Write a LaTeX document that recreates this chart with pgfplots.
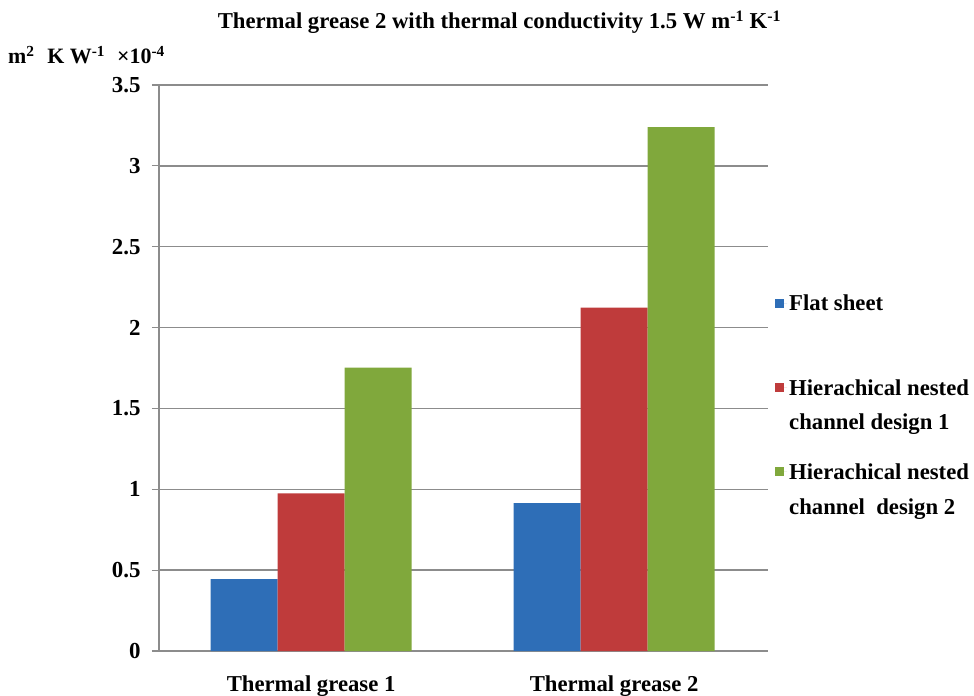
\documentclass[border=0pt]{standalone}
\usepackage{pgfplots}
\pgfplotsset{compat=1.18}
\usepackage{fontspec}
\setmainfont{Liberation Serif}
\definecolor{gridgray}{RGB}{140,140,140}
\definecolor{cblue}{RGB}{46,110,183}
\definecolor{cred}{RGB}{191,59,59}
\definecolor{cgreen}{RGB}{128,168,60}
\begin{document}
\begin{tikzpicture}
\begin{axis}[
  scale only axis, width=609bp, height=566bp,
  xmin=-0.502, xmax=1.508, ymin=0, ymax=3.5,
  ytick={0,0.5,1,1.5,2,2.5,3,3.5},
  xtick={0,1}, xticklabels={Thermal grease 1, Thermal grease 2},
  axis x line*=bottom, axis y line*=left,
  ymajorgrids, grid style={gridgray, line width=1.5bp},
  axis line style={gridgray, line width=1.5bp},
  x tick style={draw=none}, y tick style={gridgray, line width=1.2bp},
  tick align=outside, major tick length=7bp,
  /pgf/number format/assume math mode=true,
  ticklabel style={font=\bfseries\fontsize{23}{23}\selectfont, text=black},
  yticklabel style={xshift=-8bp},
  xticklabel style={yshift=-14bp, font=\bfseries\fontsize{22.8}{23}\selectfont},
  title={Thermal grease 2 with thermal conductivity 1.5 W m\textsuperscript{-1} K\textsuperscript{-1}},
  title style={at={(0.559,1)}, anchor=center, yshift=57bp, font=\bfseries\fontsize{22.8}{23}\selectfont},
  clip=false,
  legend style={at={(1.0115,0.6325)}, anchor=north west, draw=none, fill=none, inner sep=0pt,
    row sep=28bp, font=\bfseries\fontsize{22.8}{35}\selectfont, cells={anchor=west, align=left}},
  legend image code/.code={\fill[#1] (0bp,13bp) rectangle (9bp,22bp); \path (0bp,17.5bp) -- (12bp,17.5bp);},
]
\addplot[ybar, bar width=67bp, bar shift=-67bp, fill=cblue, draw=none] coordinates {(0,0.444) (1,0.914)};
\addplot[ybar, bar width=67bp, bar shift=0bp, fill=cred, draw=none] coordinates {(0,0.975) (1,2.123)};
\addplot[ybar, bar width=67bp, bar shift=67bp, fill=cgreen, draw=none] coordinates {(0,1.753) (1,3.24)};
\legend{Flat sheet\\\phantom{x}, Hierachical nested\\channel design 1, Hierachical nested\\channel\ \ design 2}
\node[anchor=west, inner sep=0pt, xshift=-151bp, yshift=30bp, font=\bfseries\fontsize{22}{22}\selectfont] at (rel axis cs:0,1)
  {m\textsuperscript{2}\,\, K W\textsuperscript{-1}\hspace{12bp}×10\textsuperscript{-4}};
\end{axis}
\pgfresetboundingbox
\useasboundingbox (-159bp,-45bp) rectangle (815bp,651bp);
\end{tikzpicture}
\end{document}
